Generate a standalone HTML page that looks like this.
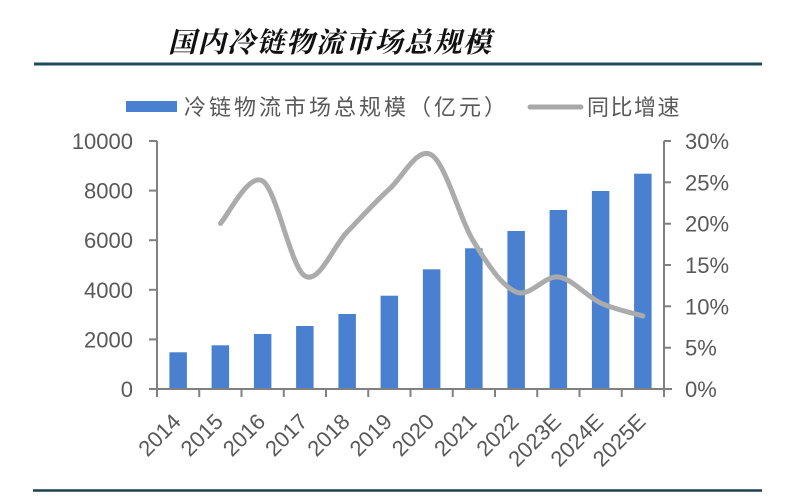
<!DOCTYPE html>
<html><head><meta charset="utf-8"><style>
html,body{margin:0;padding:0;background:#fff;}
svg{display:block;}
.ax{font-family:"Liberation Sans",Arial,sans-serif;font-size:22px;fill:#595959;}
.cn{font-family:"Liberation Sans","Noto Sans CJK SC",sans-serif;font-size:22px;fill:#595959;letter-spacing:1.5px;}
</style></head><body>
<svg width="795" height="500" viewBox="0 0 795 500" xmlns="http://www.w3.org/2000/svg">
<rect width="795" height="500" fill="#fff"/>
<text x="168" y="52" font-family="'Liberation Serif','Noto Serif CJK SC',serif" font-size="28" font-weight="700" font-style="italic" letter-spacing="1.5" fill="#111">国内冷链物流市场总规模</text>
<line x1="34" y1="64" x2="762" y2="64" stroke="#1f4a5c" stroke-width="3"/>
<line x1="33" y1="490.5" x2="762" y2="490.5" stroke="#1d3f50" stroke-width="2.5"/>
<!-- legend -->
<rect x="126" y="101" width="51" height="11" fill="#4a80d0"/>
<text class="cn" x="184" y="115" style="letter-spacing:3px">冷链物流市场总规模（亿元）</text>
<line x1="530" y1="107" x2="581" y2="107" stroke="#a8a8a8" stroke-width="5" stroke-linecap="round"/>
<text class="cn" x="587" y="115">同比增速</text>
<!-- bars -->
<g fill="#4a80d0">
<rect x="169.4" y="352.3" width="17.5" height="36.7"/>
<rect x="211.6" y="345.3" width="17.5" height="43.7"/>
<rect x="253.9" y="334" width="17.5" height="55"/>
<rect x="296.1" y="326" width="17.5" height="63"/>
<rect x="338.4" y="314" width="17.5" height="75"/>
<rect x="380.6" y="295.7" width="17.5" height="93.3"/>
<rect x="422.9" y="269.3" width="17.5" height="119.7"/>
<rect x="465.1" y="248.3" width="17.5" height="140.7"/>
<rect x="507.4" y="231" width="17.5" height="158"/>
<rect x="549.6" y="210" width="17.5" height="179"/>
<rect x="591.9" y="191" width="17.5" height="198"/>
<rect x="634.1" y="173.7" width="17.5" height="215.3"/>
</g>
<!-- axes -->
<g stroke="#808080" stroke-width="2" fill="none">
<line x1="157" y1="141" x2="157" y2="389"/>
<line x1="664" y1="141" x2="664" y2="389"/>
<line x1="149" y1="389" x2="672" y2="389"/>
<line x1="149" y1="141" x2="157" y2="141"/>
<line x1="149" y1="190.6" x2="157" y2="190.6"/>
<line x1="149" y1="240.2" x2="157" y2="240.2"/>
<line x1="149" y1="289.8" x2="157" y2="289.8"/>
<line x1="149" y1="339.4" x2="157" y2="339.4"/>
<line x1="664" y1="141" x2="671" y2="141"/>
<line x1="664" y1="182.3" x2="671" y2="182.3"/>
<line x1="664" y1="223.7" x2="671" y2="223.7"/>
<line x1="664" y1="265" x2="671" y2="265"/>
<line x1="664" y1="306.3" x2="671" y2="306.3"/>
<line x1="664" y1="347.7" x2="671" y2="347.7"/>
<line x1="157" y1="389" x2="157" y2="397"/>
<line x1="199.25" y1="389" x2="199.25" y2="397"/>
<line x1="241.5" y1="389" x2="241.5" y2="397"/>
<line x1="283.75" y1="389" x2="283.75" y2="397"/>
<line x1="326" y1="389" x2="326" y2="397"/>
<line x1="368.25" y1="389" x2="368.25" y2="397"/>
<line x1="410.5" y1="389" x2="410.5" y2="397"/>
<line x1="452.75" y1="389" x2="452.75" y2="397"/>
<line x1="495" y1="389" x2="495" y2="397"/>
<line x1="537.25" y1="389" x2="537.25" y2="397"/>
<line x1="579.5" y1="389" x2="579.5" y2="397"/>
<line x1="621.75" y1="389" x2="621.75" y2="397"/>
<line x1="664" y1="389" x2="664" y2="397"/>
</g>
<!-- line series -->
<path d="M220.4,223.5 C227.4,216.4 248.5,172.3 262.6,181 C276.7,189.8 290.8,267.5 304.9,276 C319.0,284.5 333.0,246.5 347.1,232 C361.2,217.5 375.3,201.8 389.4,189 C403.5,176.2 417.5,146.2 431.6,155 C445.7,163.8 459.8,219.2 473.9,242 C488.0,264.8 502.0,286.2 516.1,292 C530.2,297.8 544.3,275.2 558.4,277 C572.5,278.8 586.5,296.5 600.6,303 C614.7,309.5 635.9,313.8 642.9,316" fill="none" stroke="#ababab" stroke-width="5" stroke-linecap="round" stroke-linejoin="round"/>
<!-- left labels -->
<g class="ax" text-anchor="end">
<text x="133" y="149">10000</text>
<text x="133" y="198.6">8000</text>
<text x="133" y="248.2">6000</text>
<text x="133" y="297.8">4000</text>
<text x="133" y="347.4">2000</text>
<text x="133" y="397">0</text>
</g>
<g class="ax">
<text x="685" y="149">30%</text>
<text x="685" y="190.3">25%</text>
<text x="685" y="231.7">20%</text>
<text x="685" y="273">15%</text>
<text x="685" y="314.3">10%</text>
<text x="685" y="355.7">5%</text>
<text x="685" y="397">0%</text>
</g>
<!-- x labels -->
<g class="ax" text-anchor="end">
<text transform="translate(182.1,423) rotate(-45)">2014</text>
<text transform="translate(224.4,423) rotate(-45)">2015</text>
<text transform="translate(266.6,423) rotate(-45)">2016</text>
<text transform="translate(308.9,423) rotate(-45)">2017</text>
<text transform="translate(351.1,423) rotate(-45)">2018</text>
<text transform="translate(393.4,423) rotate(-45)">2019</text>
<text transform="translate(435.6,423) rotate(-45)">2020</text>
<text transform="translate(477.9,423) rotate(-45)">2021</text>
<text transform="translate(520.1,423) rotate(-45)">2022</text>
<text transform="translate(562.4,423) rotate(-45)">2023E</text>
<text transform="translate(604.6,423) rotate(-45)">2024E</text>
<text transform="translate(646.9,423) rotate(-45)">2025E</text>
</g>
</svg>
</body></html>
